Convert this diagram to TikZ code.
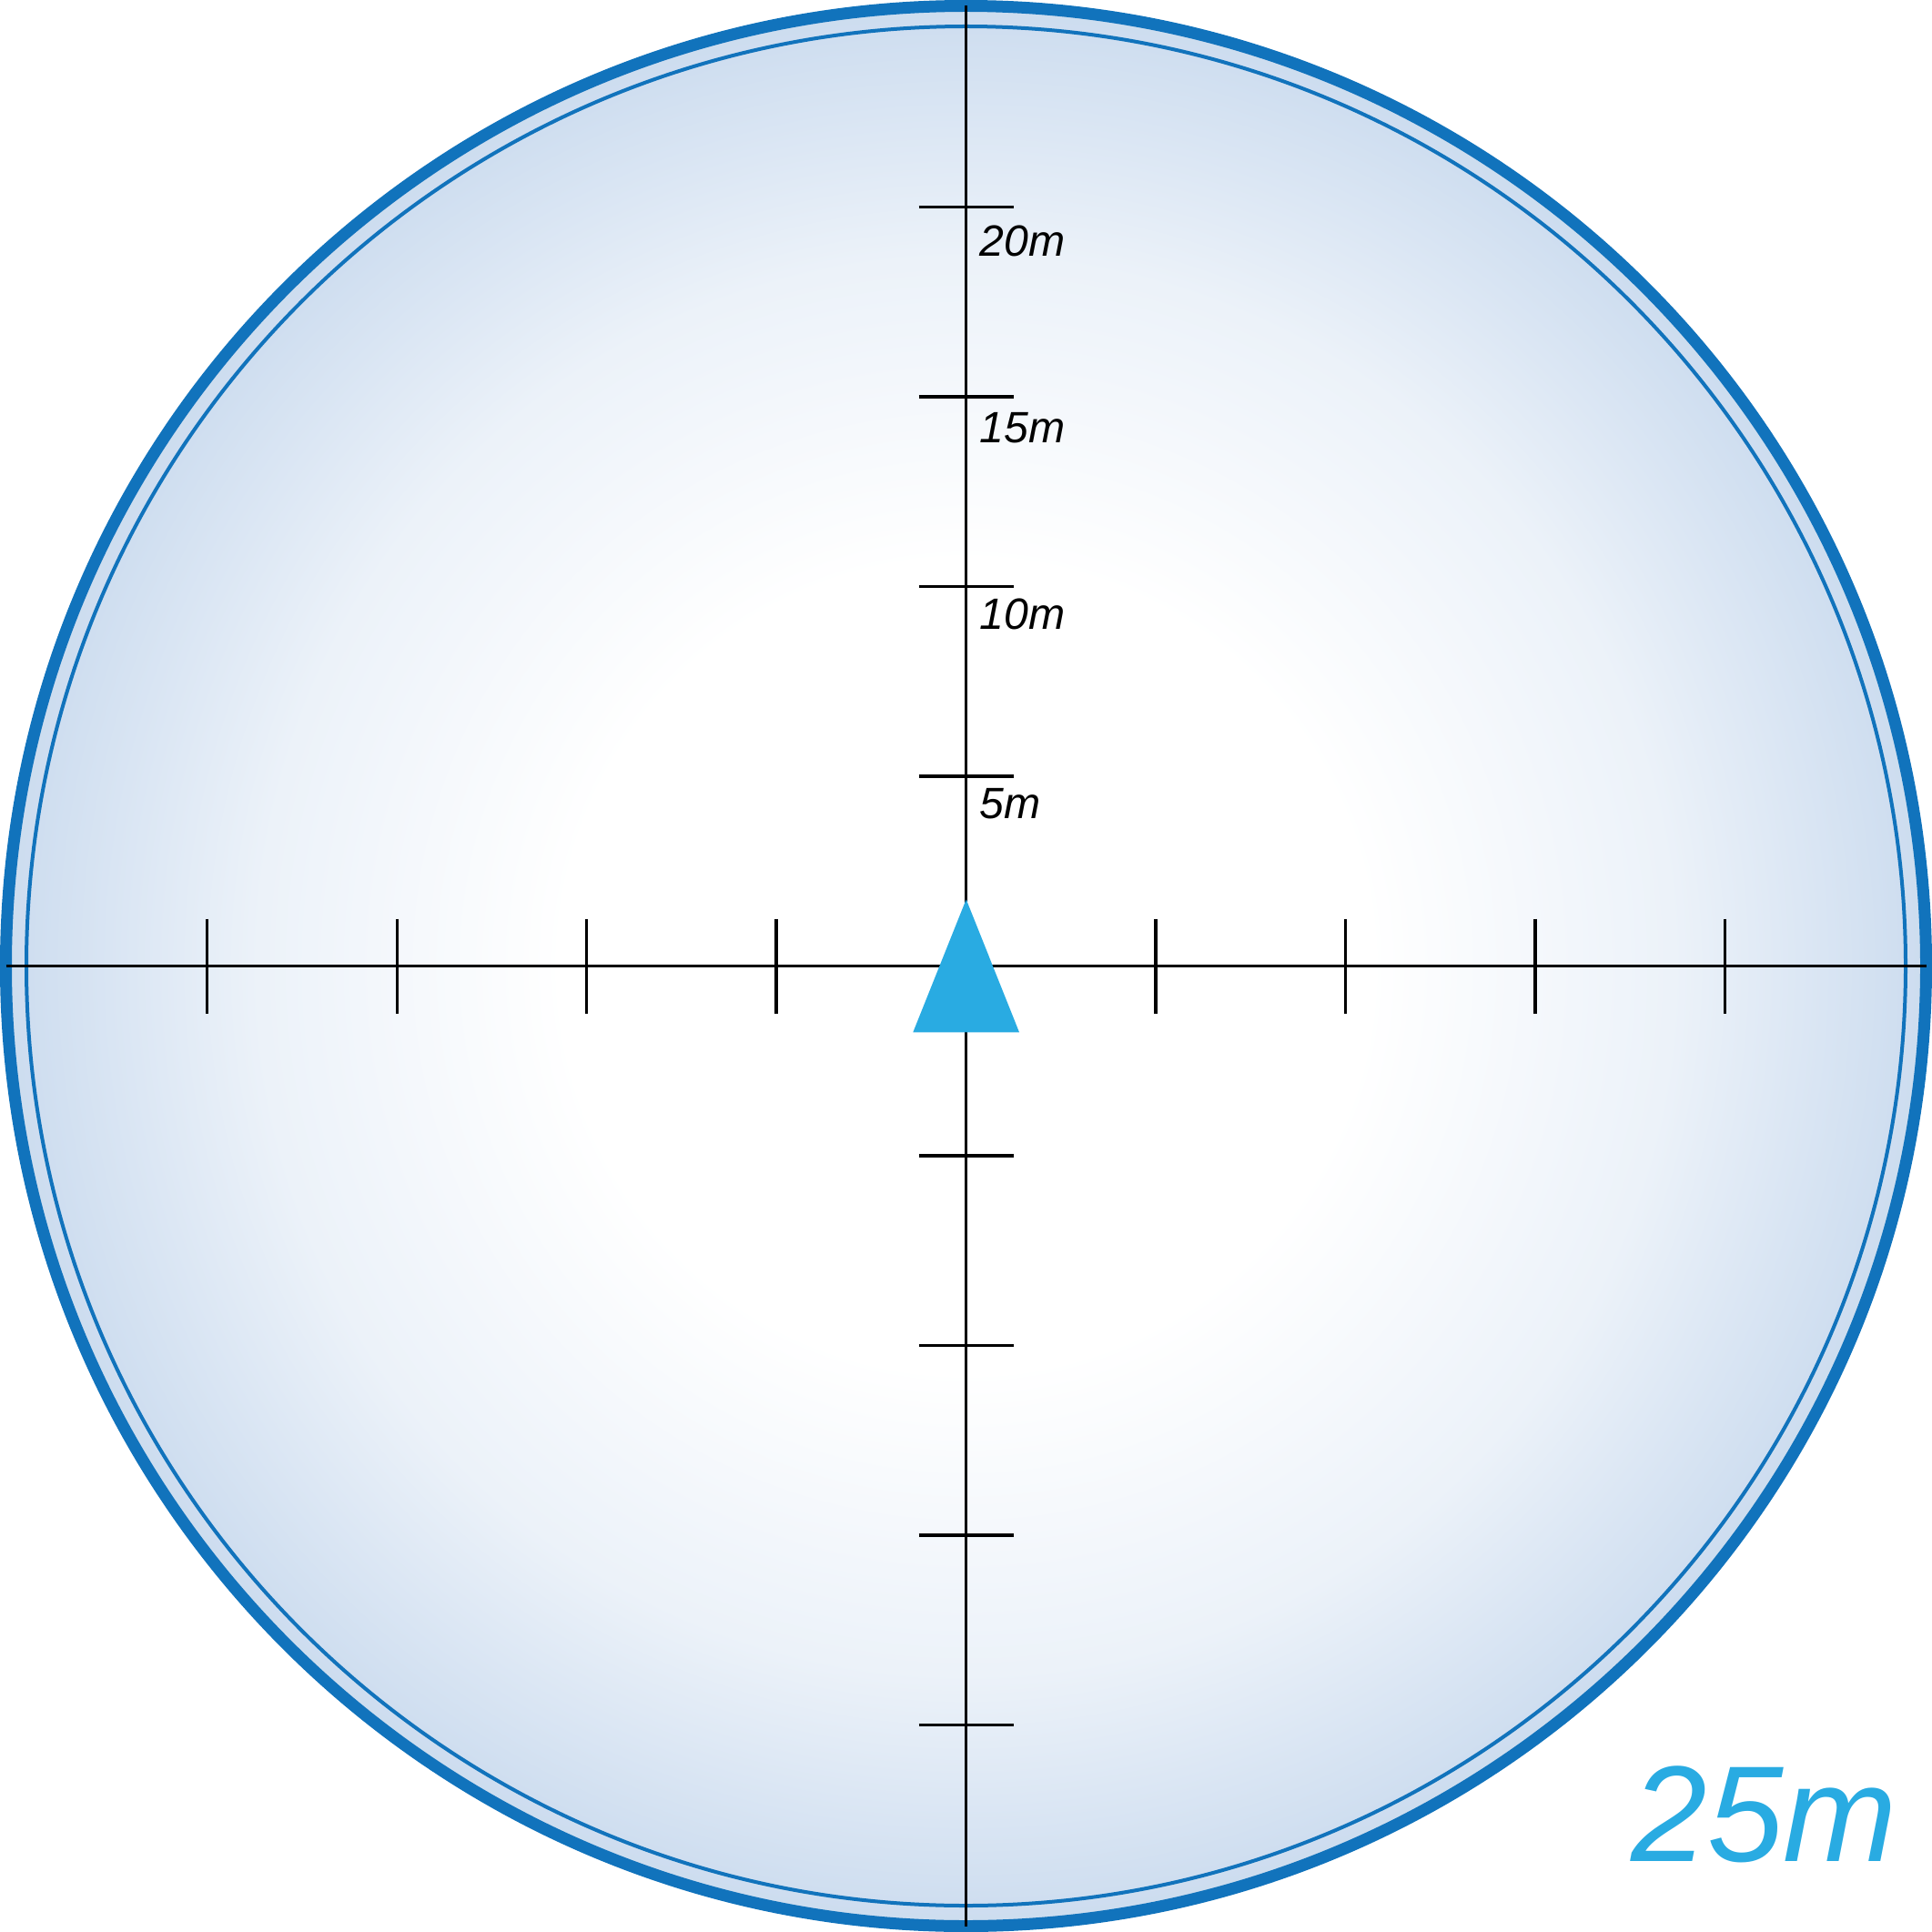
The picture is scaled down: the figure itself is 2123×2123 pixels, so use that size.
\documentclass[tikz,border=0pt]{standalone}
\usepackage{fontspec}
\setmainfont{Liberation Sans}
\usetikzlibrary{calc}
\definecolor{ringblue}{RGB}{17,115,188}
\definecolor{edgeblue}{RGB}{204,220,239}
\definecolor{markblue}{RGB}{41,171,226}
\pgfdeclareradialshading{discshade}{\pgfpoint{0bp}{0bp}}{color(0bp)=(white); color(10.5bp)=(white); color(18.5bp)=(edgeblue!38!white); color(25bp)=(edgeblue); color(50bp)=(edgeblue)}
\tikzset{
  axisline/.style={line width=0.33mm, black},
  tickmark/.style={line width=0.33mm, black},
  distlabel/.style={font=\fontsize{13.7pt}{14pt}\selectfont\itshape, anchor=base west, inner sep=0pt, text=black},
  rangelabel/.style={font=\fontsize{42.7pt}{44pt}\selectfont\itshape, anchor=base west, inner sep=0pt, text=markblue},
}
\begin{document}
\begin{tikzpicture}[x=0.1mm,y=-0.1mm]
\useasboundingbox (0,0) rectangle (2123,2123);
\coordinate (c) at (1061.5,1061.5);
% disc
\shade[shading=discshade] (c) circle[radius=1055];
\draw[ringblue, line width=0.4mm] (c) circle[radius=1032.5];
\draw[ringblue, line width=1.3mm] (c) circle[radius=1055];
% axes
\coordinate (l) at (6.5,1061.5);
\coordinate (r) at (2116.5,1061.5);
\coordinate (t) at (1061.5,6.5);
\coordinate (b) at (1061.5,2116.5);
\draw[axisline] (l) -- (r);
\draw[axisline] (t) -- (b);
% ticks
\foreach \i in {-4,-3,-2,-1,1,2,3,4}{
  \draw[tickmark] ($(c)+(\i*208.45,-52)$) -- ($(c)+(\i*208.45,52)$);
  \draw[tickmark] ($(c)+(-52,\i*208.45)$) -- ($(c)+(52,\i*208.45)$);
}
% labels
\node[distlabel] (d5)  at (1076,{1061.5-1*208.45+46}) {5m};
\node[distlabel] (d10) at (1076,{1061.5-2*208.45+46.5}) {10m};
\node[distlabel] (d15) at (1076,{1061.5-3*208.45+50}) {15m};
\node[distlabel] (d20) at (1076,{1061.5-4*208.45+54}) {20m};
% marker
\fill[markblue] (1061.7,988.3) -- (1120,1134.3) -- (1003.3,1134.3) -- cycle;
% range label
\node[rangelabel] (rng) at (1792,2045) {25m};
\end{tikzpicture}
\end{document}
